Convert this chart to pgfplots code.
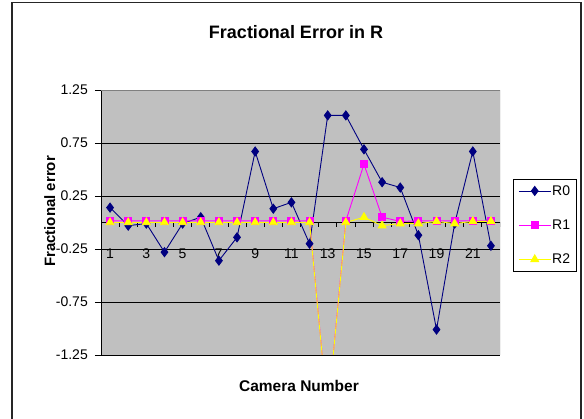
\documentclass[border=0pt]{standalone}
\usepackage{pgfplots}
\pgfplotsset{compat=1.18}
\usepackage{fontspec}
\setmainfont{Liberation Sans}
\definecolor{plotbg}{HTML}{C0C0C0}
\definecolor{rzero}{HTML}{000080}
\definecolor{rone}{HTML}{FF00FF}
\definecolor{rtwo}{HTML}{FFFF00}
\definecolor{framegray}{HTML}{808080}
\begin{document}
\begin{tikzpicture}[x=1pt,y=1pt]
\useasboundingbox (0,0) rectangle (584,419);
\draw[line width=1.6pt, black!85] (11.8,-3) -- (11.8,416.5) -- (581,416.5) -- (581,-3);
\node[font=\bfseries\fontsize{18}{20}\selectfont, anchor=base] at (296,380) {Fractional Error in R};
\node[font=\bfseries\fontsize{15.5}{18}\selectfont, anchor=base] at (299,27.5) {Camera Number};
\node[font=\bfseries\fontsize{15}{18}\selectfont, rotate=90, anchor=base] at (55,207.5) {Fractional error};
\begin{axis}[
  at={(101pt,64pt)}, anchor=south west,
  scale only axis, width=399pt, height=265pt,
  xmin=0.5, xmax=22.5, ymin=-1.25, ymax=1.25,
  axis x line=middle, axis y line=left,
  axis line style={-, black, line width=0.8pt},
  axis background/.style={fill=plotbg},
  xtick={1,3,...,21},
  x tick style={draw=none},
  ytick={-1.25,-0.75,-0.25,0.25,0.75,1.25},
  y tick style={black, line width=0.8pt},
  tick align=outside,
  major tick length=6pt,
  ymajorgrids,
  major grid style={black, line width=0.8pt},
  /pgf/number format/assume math mode=true,
  yticklabel={\pgfmathprintnumber[fixed,precision=2,fixed zerofill]{\tick}},
  xticklabel={\pgfmathprintnumber{\tick}},
  yticklabel style={font=\fontsize{14}{16}\selectfont, anchor=east, inner sep=0pt, xshift=-7pt},
  xticklabel style={font=\fontsize{14}{16}\selectfont, anchor=north, inner sep=0pt, yshift=-20pt},
  clip=true,
  legend style={at={(axis description cs:1.0326,0.664)}, anchor=north west,
    draw=black, fill=white, line width=0.6pt,
    font=\fontsize{14}{16}\selectfont, row sep=21pt,
    inner xsep=5pt, inner ysep=5pt,
    nodes={inner sep=1pt}},
  legend cell align=left,
  legend image code/.code={\draw[mark repeat=2,mark phase=2,#1] plot coordinates {(0pt,0pt) (16pt,0pt) (32pt,0pt)};},
]
\pgfplotsinvokeforeach{0,...,22}{\draw[black, line width=0.8pt] (axis cs:#1+0.5,0) -- ([yshift=-5pt]axis cs:#1+0.5,0);}
\addplot[color=rzero, line width=0.9pt, mark=diamond*, mark size=4.5pt, mark options={fill=rzero}] coordinates {
(1,0.14) (2,-0.03) (3,-0.01) (4,-0.28) (5,-0.01) (6,0.05) (7,-0.36) (8,-0.14) (9,0.67) (10,0.13) (11,0.19)
(12,-0.20) (13,1.01) (14,1.01) (15,0.69) (16,0.38) (17,0.33) (18,-0.12) (19,-1.01) (20,-0.01) (21,0.67) (22,-0.22)};
\addlegendentry{R0}
\addplot[color=rone, line width=0.9pt, mark=square*, mark size=3.5pt, mark options={fill=rone}] coordinates {
(1,0.015) (2,0.015) (3,0.015) (4,0.015) (5,0.015) (6,0.015) (7,0.015) (8,0.015) (9,0.015) (10,0.015) (11,0.015)
(12,0.015) (13,-1.8) (14,0.015) (15,0.55) (16,0.05) (17,0.01) (18,0.015) (19,0.015) (20,0.015) (21,0.015) (22,0.015)};
\addlegendentry{R1}
\addplot[color=rtwo, line width=0.9pt, mark=triangle*, mark size=4.5pt, mark options={fill=rtwo}] coordinates {
(1,0.0) (2,0.0) (3,0.0) (4,0.0) (5,0.0) (6,0.0) (7,0.0) (8,0.0) (9,0.0) (10,0.0) (11,0.0)
(12,0.0) (13,-1.8) (14,0.0) (15,0.05) (16,-0.03) (17,-0.01) (18,-0.01) (19,0.01) (20,-0.01) (21,0.01) (22,0.01)};
\addlegendentry{R2}
\draw[framegray, line width=0.8pt] (rel axis cs:0,1) -- (rel axis cs:1,1) -- (rel axis cs:1,0) -- (rel axis cs:0,0);
\end{axis}
\end{tikzpicture}
\end{document}
